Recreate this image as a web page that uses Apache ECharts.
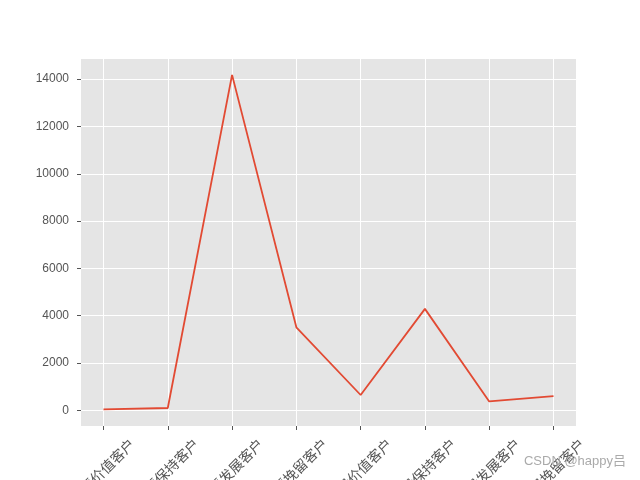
<!DOCTYPE html>
<html>
<head>
<meta charset="utf-8">
<script src="https://cdn.jsdelivr.net/npm/echarts@6/dist/echarts.min.js"></script>
<style>html,body{margin:0;padding:0;background:#fff;}#c{width:640px;height:480px;}</style>
</head>
<body>
<div id="c"></div>
<script>
const categories = ['重要价值客户','重要保持客户','重要发展客户','重要挽留客户','一般价值客户','一般保持客户','一般发展客户','一般挽留客户'];
const values = [40, 100, 14180, 3510, 650, 4290, 380, 600];
const yTicks = [0, 2000, 4000, 6000, 8000, 10000, 12000, 14000];
const xTicks = [0, 1, 2, 3, 4, 5, 6, 7];

const chart = echarts.init(document.getElementById('c'), null, {renderer: 'canvas'});
const font = '"Liberation Sans", "Noto Sans CJK SC", sans-serif';
chart.setOption({
  animation: false,
  backgroundColor: '#ffffff',
  grid: {left: 81, right: 64, top: 59, bottom: 54, show: true, backgroundColor: '#E5E5E5', borderWidth: 0,
         containLabel: false, outerBoundsMode: 'none'},
  xAxis: {
    type: 'value', min: -0.35, max: 7.35,
    axisLine: {show: false, onZero: false},
    axisTick: {show: true, customValues: xTicks, length: 4, lineStyle: {color: '#555555', width: 1}},
    splitLine: {show: true, lineStyle: {color: '#ffffff', width: 1}},
    axisLabel: {
      customValues: xTicks, rotate: 45, align: 'center', verticalAlign: 'middle', margin: 46,
      color: '#555555', fontSize: 14, fontFamily: font,
      formatter: v => categories[Math.round(v)]
    }
  },
  yAxis: {
    type: 'value', min: -660, max: 14850,
    axisLine: {show: false, onZero: false},
    axisTick: {show: true, customValues: yTicks, length: 4, lineStyle: {color: '#555555', width: 1}},
    splitLine: {show: true, lineStyle: {color: '#ffffff', width: 1}},
    axisLabel: {customValues: yTicks, margin: 12, color: '#555555', fontSize: 12, fontFamily: font,
      formatter: v => String(v)}
  },
  series: [{
    type: 'line',
    data: values.map((v, i) => [xTicks[i], v]),
    showSymbol: false,
    lineStyle: {color: '#E24A33', width: 1.8},
    itemStyle: {color: '#E24A33'}
  }],
  graphic: [{
    type: 'text', right: 14, top: 455, z: 1000, zlevel: 1,
    style: {text: 'CSDN @happy吕', fill: '#aaaaaa', font: '13px ' + font}
  }]
});
</script>
</body>
</html>
